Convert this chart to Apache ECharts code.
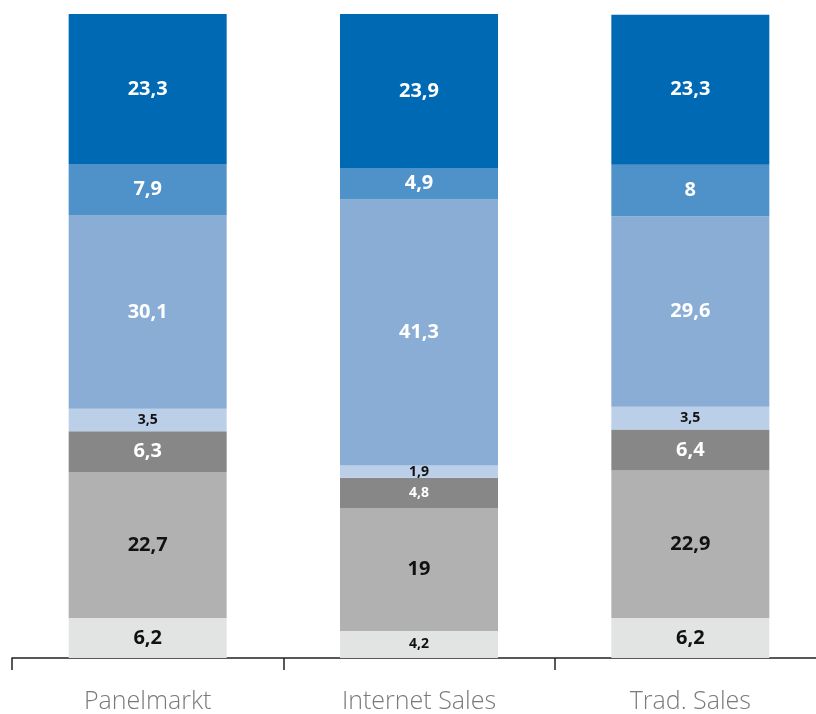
<!DOCTYPE html>
<html>
<head>
<meta charset="utf-8">
<script src="https://cdn.jsdelivr.net/npm/echarts@6/dist/echarts.min.js"></script>
<style>
  html, body { margin: 0; padding: 0; background: #fff; }
  #chart { width: 816px; height: 714px; }
</style>
</head>
<body>
<div id="chart"></div>
<script>
// 数据（自下而上）
const categories = ['Panelmarkt', 'Internet Sales', 'Trad. Sales']
const seg1 = [6.2, 4.2, 6.2]
const seg2 = [22.7, 19, 22.9]
const seg3 = [6.3, 4.8, 6.4]
const seg4 = [3.5, 1.9, 3.5]
const seg5 = [30.1, 41.3, 29.6]
const seg6 = [7.9, 4.9, 8]
const seg7 = [23.3, 23.9, 23.3]

const segments = [seg1, seg2, seg3, seg4, seg5, seg6, seg7]
const colors = ['#e2e3e3', '#b1b1b2', '#878787', '#bccfe8', '#8aadd6', '#4f91c9', '#0069b4']
const labelColors = ['#111', '#111', '#fff', '#111', '#fff', '#fff', '#fff']

const chart = echarts.init(document.getElementById('chart'))

chart.setOption({
  animation: false,
  grid: { left: 12, right: -10, top: 14, bottom: 56, outerBoundsMode: 'none' },
  xAxis: {
    type: 'category',
    data: categories,
    axisLine: { lineStyle: { color: '#222', width: 1.5 } },
    axisTick: { show: true, length: 12, inside: false, lineStyle: { color: '#222', width: 1.5 } },
    axisLabel: {
      color: '#7a7a7a',
      fontSize: 25,
      fontFamily: 'Open Sans',
      fontWeight: 300,
      margin: 31
    }
  },
  yAxis: {
    type: 'value',
    min: 0,
    max: 100,
    show: false
  },
  series: segments.map((arr, i) => ({
    type: 'bar',
    stack: 'total',
    barWidth: 158,
    itemStyle: { color: colors[i] },
    data: arr.map(v => ({
      value: v,
      label: { fontSize: v < 4.9 ? 14 : 20 }
    })),
    label: {
      show: true,
      position: 'inside',
      color: labelColors[i],
      fontFamily: 'Open Sans',
      fontWeight: 'bold',
      formatter: p => String(p.value).replace('.', ',')
    }
  }))
})
</script>
</body>
</html>
